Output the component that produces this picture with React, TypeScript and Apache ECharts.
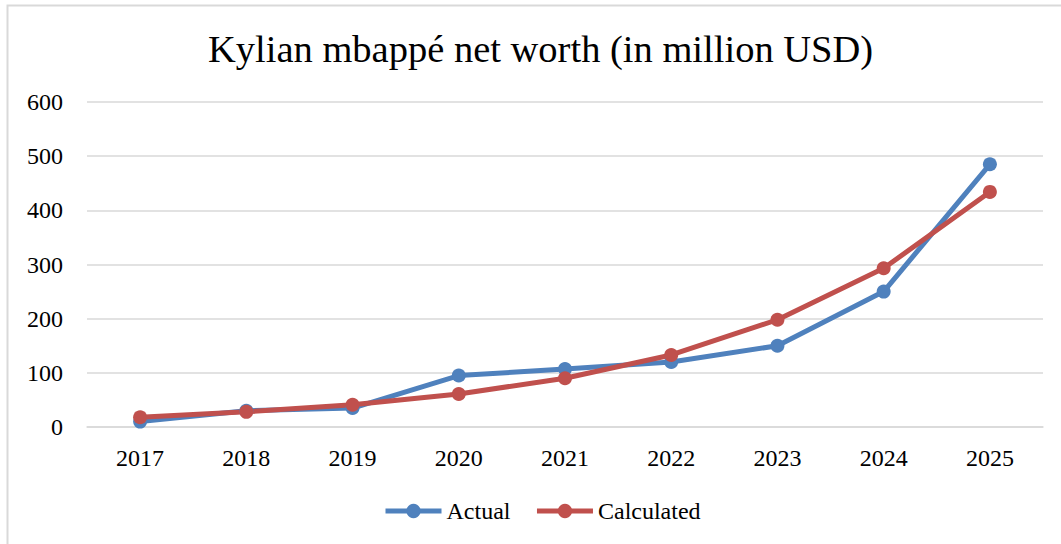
import React, { useEffect, useRef } from "react";
import * as echarts from "echarts";

const categories = ["2017", "2018", "2019", "2020", "2021", "2022", "2023", "2024", "2025"];
const actual = [10, 30, 35, 95, 107, 120, 150, 250, 485];
const calculated = [18, 28, 41, 61, 90, 133, 198, 293, 434];
const yTicks = { min: 0, max: 600, interval: 100 };

const FONT = "'Liberation Serif', 'DejaVu Serif', serif";

export default function App() {
  const ref = useRef<HTMLDivElement>(null);
  useEffect(() => {
    document.body.style.margin = "0";
    const chart = echarts.init(ref.current!, undefined, { renderer: "svg" });
    chart.setOption({
      animation: false,
      backgroundColor: "#ffffff",
      title: {
        text: "Kylian mbappé net worth (in million USD)",
        left: 203,
        top: 24,
        textStyle: { fontFamily: FONT, fontSize: 38.5, fontWeight: "normal", color: "#000" },
      },
      graphic: [
        {
          type: "rect",
          shape: { x: 7.5, y: 5.5, width: 1200, height: 700 },
          style: { fill: "none", stroke: "#d9d9d9", lineWidth: 2 },
          silent: true,
        },
      ],
      legend: {
        bottom: 16,
        left: 378,
        itemWidth: 56,
        itemHeight: 18,
        itemGap: 24,
        lineStyle: { width: 5 },
        textStyle: { fontFamily: FONT, fontSize: 24, color: "#000" },
        data: ["Actual", "Calculated"],
      },
      grid: { left: 87, right: 18, top: 102, bottom: 117, containLabel: false },
      xAxis: {
        type: "category",
        data: categories,
        boundaryGap: true,
        axisLine: { show: true, lineStyle: { color: "#d9d9d9", width: 1.5 } },
        axisTick: { show: false },
        axisLabel: { fontFamily: FONT, fontSize: 24, color: "#000", margin: 19 },
      },
      yAxis: {
        type: "value",
        min: yTicks.min,
        max: yTicks.max,
        interval: yTicks.interval,
        axisLine: { show: false },
        axisTick: { show: false },
        splitLine: { lineStyle: { color: "#d9d9d9", width: 1.5 } },
        axisLabel: { fontFamily: FONT, fontSize: 24, color: "#000", margin: 24 },
      },
      series: [
        {
          name: "Actual",
          type: "line",
          data: actual,
          symbol: "circle",
          symbolSize: 14,
          itemStyle: { color: "#4F81BD" },
          lineStyle: { color: "#4F81BD", width: 5 },
        },
        {
          name: "Calculated",
          type: "line",
          data: calculated,
          symbol: "circle",
          symbolSize: 14,
          itemStyle: { color: "#C0504D" },
          lineStyle: { color: "#C0504D", width: 5 },
        },
      ],
    });
    return () => chart.dispose();
  }, []);
  return <div ref={ref} style={{ width: 1061, height: 544 }} />;
}
